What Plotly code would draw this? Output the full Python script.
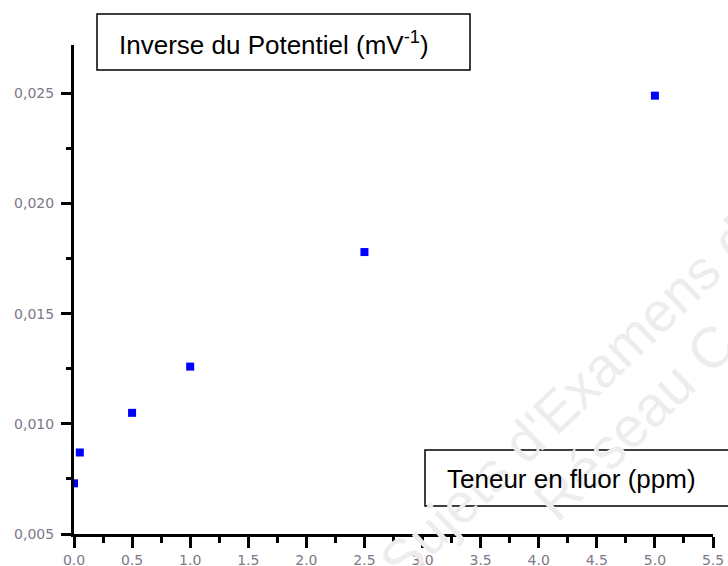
import plotly.graph_objects as go

# Data
teneur_fluor = [0.0, 0.05, 0.5, 1.0, 2.5, 5.0]
inverse_potentiel = [0.0073, 0.0087, 0.0105, 0.0126, 0.0178, 0.0249]

x_tick_vals = [0.0, 0.5, 1.0, 1.5, 2.0, 2.5, 3.0, 3.5, 4.0, 4.5, 5.0, 5.5]
x_tick_text = ["0.0", "0.5", "1.0", "1.5", "2.0", "2.5", "3.0", "3.5", "4.0", "4.5", "5.0", "5.5"]
x_minor_vals = [0.25, 0.75, 1.25, 1.75, 2.25, 2.75, 3.25, 3.75, 4.25, 4.75, 5.25]
y_tick_vals = [0.005, 0.010, 0.015, 0.020, 0.025]
y_tick_text = ["0,005", "0,010", "0,015", "0,020", "0,025"]
y_minor_vals = [0.0075, 0.0125, 0.0175, 0.0225]

W, H = 728, 566
L, R, T, B = 74, 15, 45, 32
PW, PH = W - L - R, H - T - B


def px(x):
    return (x - L) / PW


def py(y):
    return (H - B - y) / PH


fig = go.Figure()
fig.add_trace(go.Scatter(
    x=teneur_fluor, y=inverse_potentiel, mode="markers",
    marker=dict(symbol="square", size=8, color="#0000ff", line=dict(width=0)),
    showlegend=False, cliponaxis=True,
))

tick_font = dict(family="DejaVu Sans", size=14, color="#7d7888")

fig.update_xaxes(
    range=[0, 5.5], tickvals=x_tick_vals, ticktext=x_tick_text,
    showline=True, linecolor="black", linewidth=3,
    ticks="outside", ticklen=11, tickwidth=2.5, tickcolor="black",
    minor=dict(tickvals=x_minor_vals, ticks="outside",
               ticklen=6, tickwidth=2.5, tickcolor="black", showgrid=False),
    showgrid=False, zeroline=False, tickfont=tick_font, automargin=False,
)
fig.update_yaxes(
    range=[0.005, 0.0272], tickvals=y_tick_vals, ticktext=y_tick_text,
    showline=True, linecolor="black", linewidth=3,
    ticks="outside", ticklen=10, tickwidth=2.5, tickcolor="black",
    minor=dict(tickvals=y_minor_vals, ticks="outside",
               ticklen=5, tickwidth=2.5, tickcolor="black", showgrid=False),
    showgrid=False, zeroline=False, tickfont=tick_font, automargin=False,
    ticklabelstandoff=4,
)

# Watermark
fig.add_annotation(text="Sujets d'Examens d", xref="paper", yref="paper",
                   x=px(566), y=py(400), showarrow=False, textangle=-44,
                   font=dict(family="Liberation Sans", size=56, color="#ededed"),
                   xanchor="center", yanchor="middle")
fig.add_annotation(text="Réseau C", xref="paper", yref="paper",
                   x=px(634), y=py(422), showarrow=False, textangle=-44,
                   font=dict(family="Liberation Sans", size=57, color="#ededed"),
                   xanchor="center", yanchor="middle")

# Label boxes
fig.add_shape(type="rect", xref="paper", yref="paper",
              x0=px(97), x1=px(470), y0=py(70), y1=py(14),
              line=dict(color="black", width=1.5), fillcolor="rgba(0,0,0,0)", layer="above")
fig.add_annotation(text="Inverse du Potentiel (mV<sup>-1</sup>)", xref="paper", yref="paper",
                   x=px(117), y=py(43), xanchor="left", yanchor="middle", showarrow=False,
                   font=dict(family="Liberation Sans", size=26, color="black"))

fig.add_shape(type="rect", xref="paper", yref="paper",
              x0=px(425), x1=px(760), y0=py(506), y1=py(450),
              line=dict(color="black", width=1.5), fillcolor="rgba(0,0,0,0)", layer="above")
fig.add_annotation(text="Teneur en fluor (ppm)", xref="paper", yref="paper",
                   x=px(445), y=py(479), xanchor="left", yanchor="middle", showarrow=False,
                   font=dict(family="Liberation Sans", size=26, color="black"))

fig.update_layout(
    width=W, height=H,
    margin=dict(l=L, r=R, t=T, b=B),
    paper_bgcolor="white", plot_bgcolor="white",
)

fig.write_html("out.html", config={"displayModeBar": False},
               post_script="document.body.style.margin='0';document.body.style.overflow='hidden';")
